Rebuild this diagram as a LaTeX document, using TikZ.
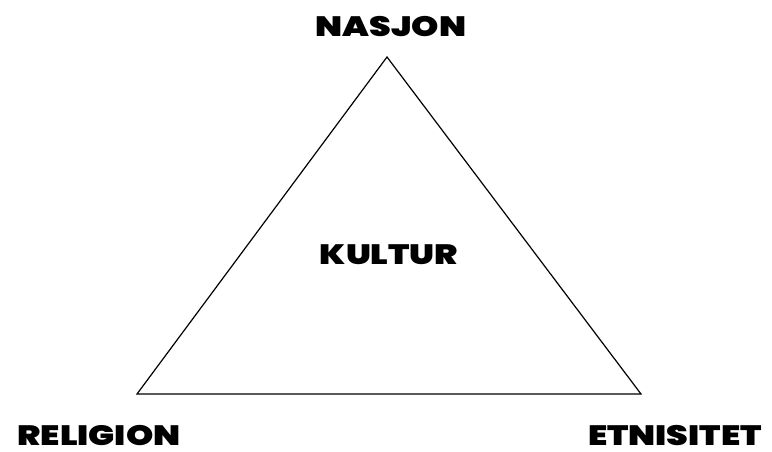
\documentclass[tikz,border=0pt]{standalone}
\usepackage{fontspec}
\setmainfont{Poppins}[BoldFont={Poppins Black}]
\usetikzlibrary{positioning}

\newcommand{\widetext}[1]{\scalebox{1.24}[1]{#1}}

\begin{document}
\begin{tikzpicture}[
        x=0.75pt, y=-0.75pt,
        lbl/.style={font=\fontsize{21}{24}\selectfont\bfseries, inner sep=0pt, anchor=base},
        edge/.style={draw, line width=0.9pt, line join=miter}
    ]
        \useasboundingbox (0,0) rectangle (772,452);

        % Corners of the triangle
        \coordinate (top) at (387,57);
        \coordinate (left) at (137,394);
        \coordinate (right) at (641,394);

        % Triangle
        \draw[edge] (top) -- (right) -- (left) -- cycle;

        % Labels
        \node[lbl] (nasjon) at (391,37) {\widetext{NASJON}};
        \node[lbl] (kultur) at (389,265) {\widetext{KULTUR}};
        \node[lbl] (religion) at (99,446) {\widetext{RELIGION}};
        \node[lbl] (etnisitet) at (675,446) {\widetext{ETNISITET}};
\end{tikzpicture}
\end{document}
